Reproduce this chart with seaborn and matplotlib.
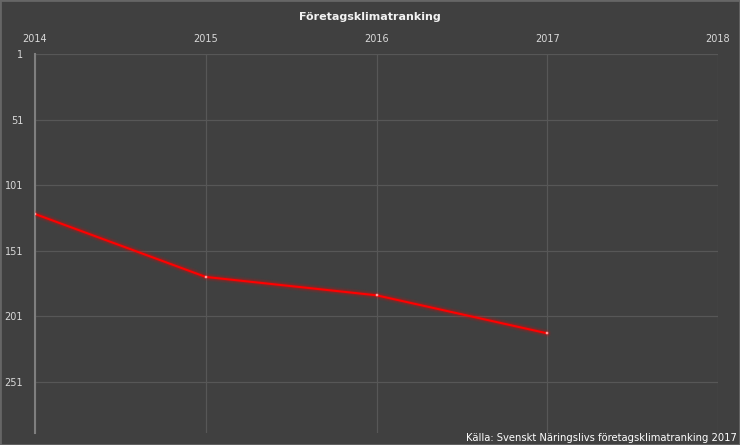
import matplotlib
matplotlib.use("Agg")
import matplotlib.pyplot as plt
import seaborn as sns
import pandas as pd
from matplotlib.patches import Rectangle

years = [2014, 2015, 2016, 2017]
ranks = [123, 171, 185, 214]
x_ticks = [2014, 2015, 2016, 2017, 2018]
y_ticks = [1, 51, 101, 151, 201, 251]
title = "Företagsklimatranking"
source = "Källa: Svenskt Näringslivs företagsklimatranking 2017"

bg = "#404040"
grid_c = "#575757"
text_c = "#d9d9d9"

sns.set_theme(style="dark")
plt.rcParams['font.family'] = ['DejaVu Sans']

df = pd.DataFrame({"year": years, "rank": ranks})

fig = plt.figure(figsize=(7.4, 4.45), dpi=100, facecolor=bg)
ax = fig.add_axes([35/740, 1-433/445, (718-35)/740, (433-54)/445])
ax.set_facecolor(bg)

# glow
for lw, a in [(6, 0.06), (4.5, 0.10), (3, 0.16)]:
    sns.lineplot(data=df, x="year", y="rank", ax=ax, color="#ff0000", linewidth=lw,
                 alpha=a, legend=False, zorder=3)
sns.lineplot(data=df, x="year", y="rank", ax=ax, color="#ff0000", linewidth=1.5,
             marker="s", markersize=2, markerfacecolor="#ff9999",
             markeredgecolor="#ff9999", markeredgewidth=0.3, legend=False, zorder=4)

ax.set_xlim(2014, 2018)
ax.set_ylim(290, 1)
ax.set_xticks(x_ticks)
ax.set_xticklabels([str(t) for t in x_ticks])
ax.set_yticks(y_ticks)
ax.set_yticklabels([str(t) for t in y_ticks])
ax.xaxis.tick_top()
ax.tick_params(axis="x", length=0, pad=7, labelsize=7, labelcolor=text_c)
ax.tick_params(axis="y", length=0, pad=8.5, labelsize=7, labelcolor=text_c)
ax.set_xlabel("")
ax.set_ylabel("")
ax.grid(True, color=grid_c, linewidth=0.9)
for s in ["top", "right", "bottom"]:
    ax.spines[s].set_visible(False)
ax.spines["left"].set_visible(True)
ax.spines["left"].set_color("#7f7f7f")
ax.spines["left"].set_linewidth(1.5)

fig.text(370/740, 1-17/445, title, ha="center", va="center", color="#f2f2f2",
         fontsize=8, fontweight="bold")
fig.text(737/740, 1-438/445, source, ha="right", va="center", color="#ffffff",
         fontsize=7.2)

fig.patches.append(Rectangle((0, 0), 1, 1, transform=fig.transFigure, fill=False,
                             edgecolor="#666666", linewidth=2, zorder=10))

fig.savefig("out.png", dpi=100, facecolor=bg)
